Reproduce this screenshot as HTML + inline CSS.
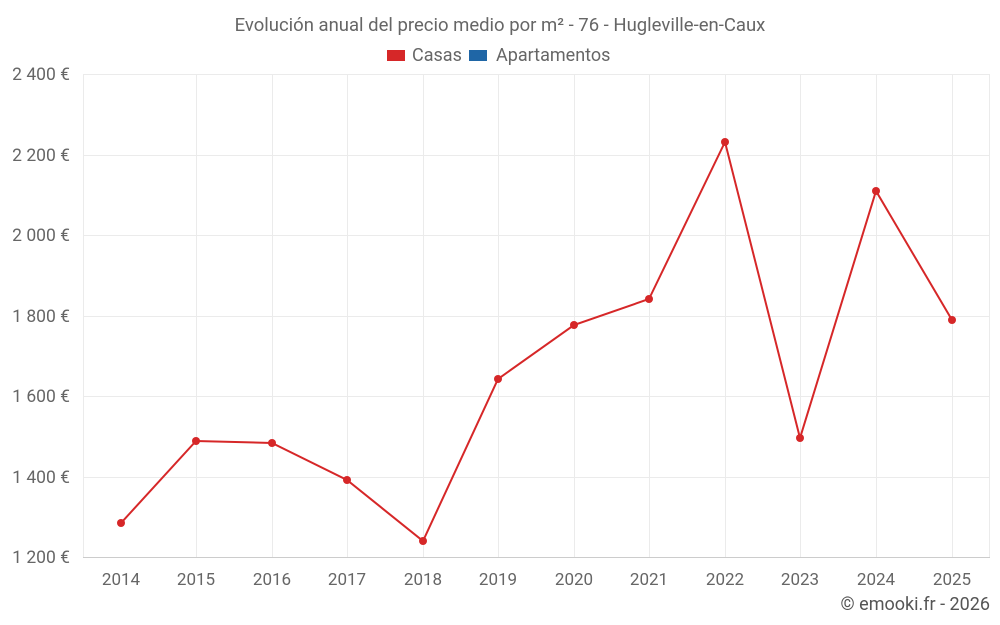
<!DOCTYPE html>
<html><head><meta charset="utf-8"><style>
html,body{margin:0;padding:0;background:#fff;}
svg{display:block;font-family:"Roboto","Liberation Sans",sans-serif;}
</style></head><body>
<svg width="1000" height="625" viewBox="0 0 1000 625" xmlns="http://www.w3.org/2000/svg">
<text x="500" y="31" text-anchor="middle" font-size="18.5" fill="#666">Evolución anual del precio medio por m² - 76 - Hugleville-en-Caux</text>
<rect x="387" y="50" width="18" height="11" fill="#d62728"/>
<text x="412" y="61" font-size="18" fill="#666">Casas</text>
<rect x="469" y="50" width="18" height="11" fill="#1f66a6"/>
<text x="496" y="61" font-size="18" fill="#666">Apartamentos</text>
<g stroke="#ebebeb" stroke-width="1">
<line x1="83" y1="74.5" x2="990" y2="74.5"/>
<line x1="83" y1="155.5" x2="990" y2="155.5"/>
<line x1="83" y1="235.5" x2="990" y2="235.5"/>
<line x1="83" y1="316.5" x2="990" y2="316.5"/>
<line x1="83" y1="396.5" x2="990" y2="396.5"/>
<line x1="83" y1="477.5" x2="990" y2="477.5"/>
<line x1="83.5" y1="74" x2="83.5" y2="557"/>
<line x1="196.5" y1="74" x2="196.5" y2="557"/>
<line x1="272.5" y1="74" x2="272.5" y2="557"/>
<line x1="347.5" y1="74" x2="347.5" y2="557"/>
<line x1="423.5" y1="74" x2="423.5" y2="557"/>
<line x1="498.5" y1="74" x2="498.5" y2="557"/>
<line x1="574.5" y1="74" x2="574.5" y2="557"/>
<line x1="649.5" y1="74" x2="649.5" y2="557"/>
<line x1="725.5" y1="74" x2="725.5" y2="557"/>
<line x1="800.5" y1="74" x2="800.5" y2="557"/>
<line x1="876.5" y1="74" x2="876.5" y2="557"/>
<line x1="952.5" y1="74" x2="952.5" y2="557"/>
<line x1="989.5" y1="74" x2="989.5" y2="557"/>
</g>
<line x1="83" y1="557.5" x2="990" y2="557.5" stroke="#ccc"/>
<g font-size="17.5" fill="#666" text-anchor="end">
<text x="70" y="80">2 400 €</text>
<text x="70" y="161">2 200 €</text>
<text x="70" y="241">2 000 €</text>
<text x="70" y="322">1 800 €</text>
<text x="70" y="402">1 600 €</text>
<text x="70" y="483">1 400 €</text>
<text x="70" y="563">1 200 €</text>
</g>
<g font-size="17" fill="#666" text-anchor="middle">
<text x="121" y="585">2014</text><text x="196" y="585">2015</text><text x="272" y="585">2016</text>
<text x="347" y="585">2017</text><text x="423" y="585">2018</text><text x="498" y="585">2019</text>
<text x="574" y="585">2020</text><text x="649" y="585">2021</text><text x="725" y="585">2022</text>
<text x="800" y="585">2023</text><text x="876" y="585">2024</text><text x="952" y="585">2025</text>
</g>
<polyline fill="none" stroke="#d62728" stroke-width="2" points="121,523 196,441 272,443 347,480 423,541 498,379 574,325 649,299 725,142 800,438 876,191 952,320"/>
<g fill="#d62728">
<circle cx="121" cy="523" r="4"/><circle cx="196" cy="441" r="4"/><circle cx="272" cy="443" r="4"/>
<circle cx="347" cy="480" r="4"/><circle cx="423" cy="541" r="4"/><circle cx="498" cy="379" r="4"/>
<circle cx="574" cy="325" r="4"/><circle cx="649" cy="299" r="4"/><circle cx="725" cy="142" r="4"/>
<circle cx="800" cy="438" r="4"/><circle cx="876" cy="191" r="4"/><circle cx="952" cy="320" r="4"/>
</g>
<text x="990" y="610" text-anchor="end" font-size="18" fill="#555">© emooki.fr - 2026</text>
</svg>
</body></html>
